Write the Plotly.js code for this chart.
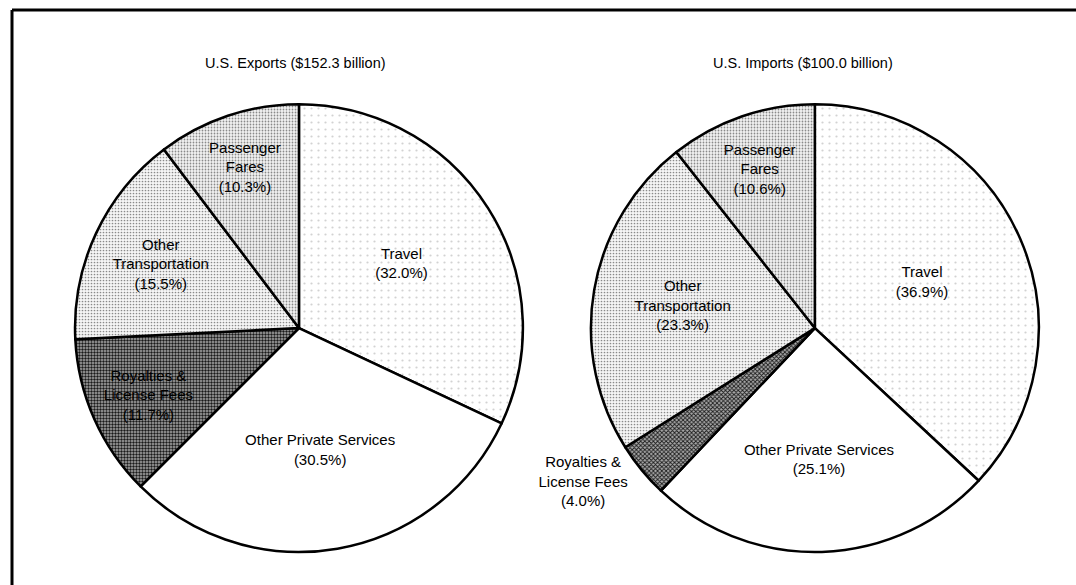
<!DOCTYPE html>
<html>
<head>
<meta charset="utf-8">
<script src="https://cdn.plot.ly/plotly-3.0.1.min.js"></script>
<style>
  html, body { margin: 0; padding: 0; background: #fff; }
  #chart { width: 1076px; height: 585px; }
</style>
</head>
<body>
<div id="chart"></div>
<script>
// ---- Data ----
const categories = ["Travel", "Other Private Services", "Royalties & License Fees", "Other Transportation", "Passenger Fares"];
const labelText = ["Travel", "Other Private Services", "Royalties &<br>License Fees", "Other<br>Transportation", "Passenger<br>Fares"];
const exportsShare = [32.0, 30.5, 11.7, 15.5, 10.3];
const importsShare = [36.9, 25.1, 4.0, 23.3, 10.6];
const exportsTitle = "U.S. Exports ($152.3 billion)";
const importsTitle = "U.S. Imports ($100.0 billion)";

const FONT = "Liberation Sans, Arial, Helvetica, sans-serif";

function patterns(royaltyShape) {
  return {
    shape: [".", "", royaltyShape, ".", "."],
    fgcolor: ["#d2d2d2", "#ffffff", "#1a1a1a", "#8a8a8a", "#8a8a8a"],
    bgcolor: ["#ffffff", "#ffffff", "#aaaaaa", "#f6f6f6", "#f3f3f3"],
    size: [7, 6, 3, 3, 3],
    solidity: [0.08, 0.1, 0.5, 0.25, 0.28]
  };
}

function pieTrace(values, domainX, royaltyShape, positions) {
  return {
    type: "pie",
    labels: categories,
    values: values,
    text: labelText,
    texttemplate: "%{text}<br>(%{value:.1f}%)",
    textinfo: "text",
    textposition: positions,
    insidetextorientation: "horizontal",
    textfont: { family: FONT, size: 15, color: "#000" },
    sort: false,
    direction: "clockwise",
    rotation: 0,
    automargin: false,
    hoverinfo: "label+value",
    domain: { x: domainX, y: [0.0564, 0.822] },
    marker: {
      colors: ["#ffffff", "#ffffff", "#aaaaaa", "#f6f6f6", "#f3f3f3"],
      line: { color: "#000", width: 2.5 },
      pattern: patterns(royaltyShape)
    },
    showlegend: false
  };
}

const data = [
  pieTrace(exportsShare, [0.0697, 0.486], ".", ["inside", "inside", "inside", "inside", "inside"]),
  pieTrace(importsShare, [0.549, 0.9656], "x", ["inside", "inside", "outside", "inside", "inside"])
];

const layout = {
  width: 1076,
  height: 585,
  margin: { l: 0, r: 0, t: 0, b: 0 },
  paper_bgcolor: "#fff",
  font: { family: FONT, color: "#000" },
  showlegend: false,
  annotations: [
    { text: exportsTitle, x: 295 / 1076, y: 1 - 63 / 585, xref: "paper", yref: "paper",
      showarrow: false, xanchor: "center", yanchor: "middle", font: { family: FONT, size: 14.5, color: "#000" } },
    { text: importsTitle, x: 803 / 1076, y: 1 - 63 / 585, xref: "paper", yref: "paper",
      showarrow: false, xanchor: "center", yanchor: "middle", font: { family: FONT, size: 14.5, color: "#000" } }
  ],
  shapes: [
    { type: "line", xref: "paper", yref: "paper", x0: 12 / 1076, x1: 1, y0: 1 - 10 / 585, y1: 1 - 10 / 585,
      line: { color: "#000", width: 3 } },
    { type: "line", xref: "paper", yref: "paper", x0: 12 / 1076, x1: 12 / 1076, y0: 0, y1: 1 - 10 / 585,
      line: { color: "#000", width: 3 } }
  ]
};

Plotly.newPlot("chart", data, layout, { displayModeBar: false, staticPlot: true });
</script>
</body>
</html>
